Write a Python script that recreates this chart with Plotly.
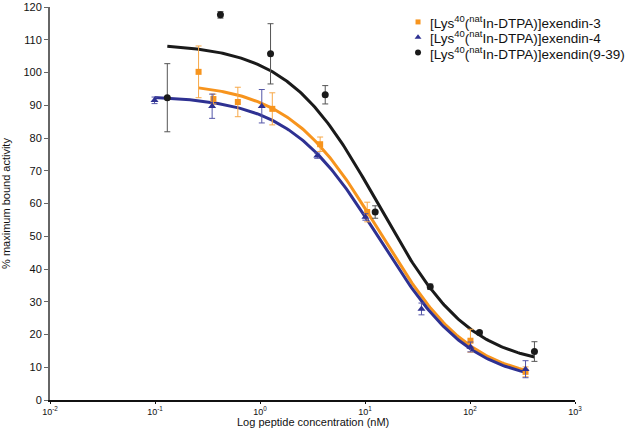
import numpy as np
import plotly.graph_objects as go

# ---- data ----
ex3_conc = [0.26, 0.36, 0.615, 1.31, 3.74, 10.5, 101, 338]
ex3_val = [100.2, 91.9, 91.0, 88.9, 78.1, 57.4, 18.1, 8.6]
ex3_err = [7.9, 1.5, 4.5, 4.9, 2.2, 3.0, 3.5, 1.5]

ex4_conc = [0.099, 0.35, 1.04, 3.51, 10.1, 34.5, 101, 338]
ex4_val = [91.5, 89.7, 89.7, 74.6, 55.9, 27.8, 16.2, 9.4]
ex4_err = [1.0, 3.7, 5.1, 0.8, 1.0, 1.8, 1.5, 2.6]

ex939_conc = [0.131, 0.42, 1.26, 4.18, 12.5, 41.8, 123, 411]
ex939_val = [92.3, 117.6, 105.7, 93.2, 57.4, 34.6, 20.6, 14.8]
ex939_err = [10.4, 1.0, 9.2, 2.8, 1.9, 0.8, 0.5, 3.0]

# fitted sigmoidal dose-response parameters (top, bottom, logIC50, hill)
ex3_fit = [97.0, 5.5, 1.14, 1.0]
ex4_fit = [93.0, 5.0, 1.141, 1.0]
ex939_fit = [109.0, 10.0, 1.13, 1.0]

names = ["[Lys<sup>40</sup>(<sup>nat</sup>In-DTPA)]exendin-3",
         "[Lys<sup>40</sup>(<sup>nat</sup>In-DTPA)]exendin-4",
         "[Lys<sup>40</sup>(<sup>nat</sup>In-DTPA)]exendin(9-39)"]

tick_vals = [0.01, 0.1, 1, 10, 100, 1000]
tick_text = ["10<sup>-2</sup>", "10<sup>-1</sup>", "10<sup>0</sup>",
             "10<sup>1</sup>", "10<sup>2</sup>", "10<sup>3</sup>"]
y_ticks = list(range(0, 121, 10))
x_title = "Log peptide concentration (nM)"
y_title = "% maximum bound activity"


def sigmoid(conc, p):
    top, bottom, logic50, hill = p
    lx = np.log10(conc)
    return bottom + (top - bottom) / (1 + 10 ** ((lx - logic50) * hill))


series = [
    (ex3_conc, ex3_val, ex3_err, ex3_fit, names[0], "#F7941D", "#F7A848", "square", 6),
    (ex4_conc, ex4_val, ex4_err, ex4_fit, names[1], "#2E3192", "#5456A8", "triangle-up", 7),
    (ex939_conc, ex939_val, ex939_err, ex939_fit, names[2], "#1A1A1A", "#555555", "circle", 7),
]

fig = go.Figure()
for conc, val, err, fit, name, col, ecol, sym, ms in [series[2], series[0], series[1]]:
    xs = np.logspace(np.log10(conc[0]), np.log10(conc[-1]), 200)
    fig.add_trace(go.Scatter(x=xs, y=sigmoid(xs, fit), mode="lines",
                             line=dict(color=col, width=3), showlegend=False,
                             hoverinfo="skip"))

for conc, val, err, fit, name, col, ecol, sym, ms in series:
    fig.add_trace(go.Scatter(
        x=conc, y=val, mode="markers", name=name, showlegend=False,
        marker=dict(symbol=sym, size=ms, color=col),
        error_y=dict(type="data", array=err, visible=True, color=ecol,
                     thickness=1, width=3),
    ))

# legend (compact, as in the reference) on an overlay axis in [0,1] units
leg_y = [0.962, 0.923, 0.884]
leg_mx = 0.701
leg_tx = 0.72
for i, (conc, val, err, fit, name, col, ecol, sym, ms) in enumerate(series):
    fig.add_trace(go.Scatter(x=[leg_mx], y=[leg_y[i]], xaxis="x2", yaxis="y2",
                             mode="markers", showlegend=False, hoverinfo="skip",
                             marker=dict(symbol=sym, size=ms - 1, color=col)))
    fig.add_annotation(x=leg_tx, y=leg_y[i], xref="paper", yref="paper",
                       xanchor="left", yanchor="middle", showarrow=False,
                       text=name, font=dict(size=13.5, color="#111111"))

# x-axis title placed close under the tick labels, as in the reference
fig.add_annotation(x=0.5, y=-0.057, xref="paper", yref="paper", xanchor="center",
                   yanchor="middle", showarrow=False, text=x_title,
                   font=dict(size=11, color="#111111"))

font = "Liberation Sans, Arial, sans-serif"
fig.update_layout(
    width=629, height=432,
    margin=dict(l=50, r=54, t=7, b=32, autoexpand=False),
    paper_bgcolor="white", plot_bgcolor="white",
    font=dict(family=font, color="#111111", size=10),
    showlegend=False,
    xaxis=dict(type="log", range=[-2, 3], tickvals=tick_vals, ticktext=tick_text,
               showgrid=False, zeroline=False, showline=True, linecolor="#111111",
               linewidth=2, ticks="outside", ticklen=2, tickcolor="#111111",
               tickfont=dict(size=9)),
    yaxis=dict(range=[0, 120], tickvals=y_ticks, showgrid=False, zeroline=False,
               showline=True, linecolor="#666666", linewidth=2, ticks="outside",
               ticklen=4, tickcolor="#666666", tickfont=dict(size=11),
               title=dict(text=y_title, font=dict(size=11), standoff=12)),
    xaxis2=dict(overlaying="x", range=[0, 1], visible=False, fixedrange=True),
    yaxis2=dict(overlaying="y", range=[0, 1], visible=False, fixedrange=True),
)

fig.write_html("out.html", config={"displayModeBar": False},
               post_script="document.body.style.margin='0px';"
                           "document.body.style.overflow='hidden';")
